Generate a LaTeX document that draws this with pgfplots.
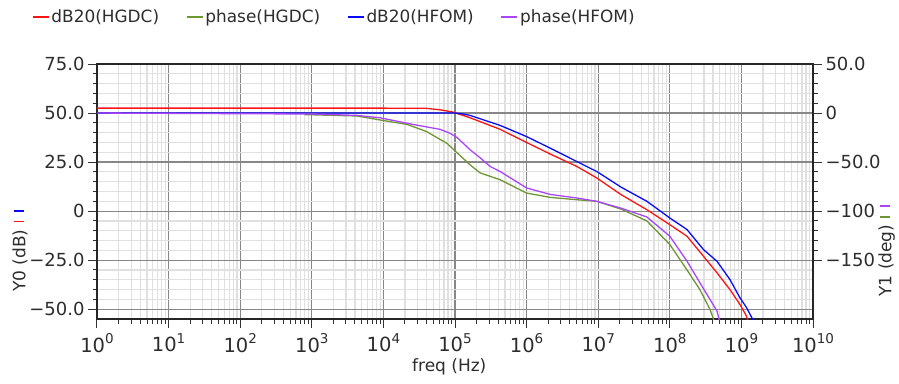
\documentclass[border=0pt]{standalone}
\usepackage{fontspec}
\setmainfont{DejaVu Sans}
\usepackage{pgfplots}
\pgfplotsset{compat=1.18}
\definecolor{cred}{RGB}{250,20,20}
\definecolor{cblue}{RGB}{10,10,250}
\definecolor{cgreen}{RGB}{110,150,50}
\definecolor{cpurple}{RGB}{170,70,250}
\definecolor{majgrid}{RGB}{135,135,135}
\definecolor{mingrid}{RGB}{224,224,224}
\definecolor{txt}{RGB}{45,45,45}
\newcommand{\tl}[1]{\fontsize{19.5}{19.5}\selectfont 10\raisebox{8.5pt}{\fontsize{13.5}{13.5}\selectfont #1}}
\newcommand{\mybar}[1]{\textcolor{#1}{\rule[1pt]{1.6pt}{10pt}}}
\begin{document}
\begin{tikzpicture}
\useasboundingbox (-97pt,-64pt) rectangle (802pt,319pt);
\begin{axis}[
  at={(0,0)}, anchor=south west,
  scale only axis, width=716pt, height=255pt,
  xmode=log, xmin=1, xmax=1e10,
  ymin=-55, ymax=75,
  xtick={1,1e1,1e2,1e3,1e4,1e5,1e6,1e7,1e8,1e9,1e10},
  xticklabels={\tl{0},\tl{1},\tl{2},\tl{3},\tl{4},\tl{5},\tl{6},\tl{7},\tl{8},\tl{9},\tl{10}},
  ytick={-50,-25,0,25,50,75},
  yticklabels={−50.0,−25.0,0,25.0,50.0,75.0},
  minor y tick num=4,
  xtick pos=bottom, ytick pos=left,
  tick align=outside,
  major tick length=9pt, minor tick length=4.5pt,
  every tick/.style={black!80, line width=1pt},
  grid=both,
  major grid style={majgrid, line width=1.2pt},
  minor grid style={mingrid, line width=1.2pt},
  axis line style={black!85, line width=1.3pt},
  tick label style={text=txt},
  yticklabel style={font=\fontsize{18}{18}\selectfont},
  xticklabel style={yshift=-2pt},
  xlabel={freq (Hz)},
  xlabel style={font=\fontsize{17}{17}\selectfont, text=txt, at={(axis description cs:0.492,0)}, anchor=north, yshift=-36pt},
  ylabel={Y0 (dB)\hspace{7pt}\mybar{cred}\hspace{9pt}\mybar{cblue}},
  ylabel style={font=\fontsize{17}{17}\selectfont, text=txt, at={(axis description cs:-0.1075,0.267)}, anchor=center},
  legend columns=4,
  legend image code/.code={\draw[#1, line width=1.3pt] (0pt,0pt) -- (16pt,0pt);},
  legend style={at={(axis description cs:-0.0908,1.184)}, anchor=west, draw=none, fill=none, inner sep=0pt,
    font=\fontsize{16.9}{16.9}\selectfont, text=txt,
    /tikz/every even column/.append style={column sep=25pt}},
  legend cell align=left,
]
\addplot[cred, line width=1.3pt] coordinates {
(1,52.5) (1e4,52.5) (39811,52.4) (63096,51.6) (93325,50.5) (162181,47.6) (426580,41.7) (1e6,35.0)
(2137962,29.1) (5011872,22.8) (9549926,16.9) (20892961,8.4) (47863009,0.7) (1e8,-6.9)
(173780083,-12.8) (295120923,-23) (457088190,-31.5) (691830971,-40) (954992586,-47.6)
(1174897555,-53.5) (1258925412,-57)
};
\addlegendentry{dB20(HGDC)}
\addlegendimage{cgreen}
\addlegendentry{phase(HGDC)}
\addplot[cblue, line width=1.3pt] coordinates {
(1,50) (1e5,50) (125893,49.6) (162181,48.8) (426580,43.7) (1e6,38.0) (2137962,32.1)
(5011872,25.3) (9549926,20.2) (20892961,12.2) (47863009,5.0) (1e8,-3.5) (173780083,-9.4)
(295120923,-19.6) (457088190,-25.6) (691830971,-34.9) (954992586,-44.2) (1174897555,-49.1)
(1479108388,-56)
};
\addlegendentry{dB20(HFOM)}
\addlegendimage{cpurple}
\addlegendentry{phase(HFOM)}
\end{axis}
\begin{axis}[
  at={(0,0)}, anchor=south west,
  scale only axis, width=716pt, height=255pt,
  xmode=log, xmin=1, xmax=1e10,
  ymin=-210, ymax=50,
  axis x line=none,
  axis y line*=right,
  ytick={-150,-100,-50,0,50},
  yticklabels={−150,−100,−50.0,0,50.0},
  minor y tick num=4,
  tick align=outside,
  major tick length=9pt, minor tick length=4.5pt,
  every tick/.style={black!80, line width=1pt},
  axis line style={black!85, line width=1.3pt},
  tick label style={text=txt},
  yticklabel style={font=\fontsize{18}{18}\selectfont},
  ylabel={Y1 (deg)\hspace{7pt}\mybar{cgreen}\hspace{9pt}\mybar{cpurple}},
  ylabel style={font=\fontsize{17}{17}\selectfont, text=txt, at={(axis description cs:1.103,0.267)}, anchor=center},
]
\addplot[cgreen, line width=1.3pt] coordinates {
(794.3,-1.6) (4266,-3) (8913,-7) (21380,-11.6) (39811,-18.8) (77625,-31) (93325,-36.5)
(162181,-52.8) (223872,-61) (426580,-68) (1e6,-81.6) (2137962,-86) (5011872,-88.4)
(9549926,-90) (20892961,-98) (47863009,-110) (1e8,-134) (173780083,-160) (263026799,-180)
(363078055,-200) (426579519,-214)
};
\addplot[cpurple, line width=1.3pt] coordinates {
(1,0) (1000,-1) (4266,-2.4) (8913,-4.8) (25704,-11.6) (61660,-16.6) (85114,-20.6) (107152,-25)
(162181,-37.4) (223872,-45.6) (309030,-54.4) (426580,-59.6) (1e6,-76.4) (2137962,-83)
(5011872,-86.6) (9549926,-90) (20892961,-97) (47863009,-106) (1e8,-125.6) (173780083,-151)
(263026799,-173) (457088190,-202) (501187234,-214)
};
\end{axis}
\end{tikzpicture}
\end{document}
